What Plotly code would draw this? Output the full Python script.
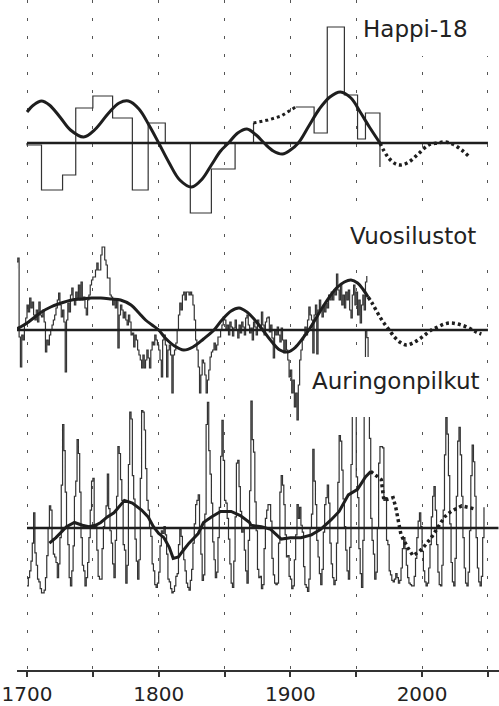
import plotly.graph_objects as go

# ---------------- Happi-18 (oxygen-18) ----------------
happi1_years = [1700, 1700, 1711, 1727, 1737, 1750, 1765, 1780, 1792, 1805, 1824, 1840, 1858, 1872]
happi1_vals = [0, -2, -47, -32, 35, 47, 25, -47, 20, 0, -70, -26, 0, 20]
happi_gap_years = [1872, 1883, 1893, 1904]
happi_gap_vals = [20, 23, 27, 36]
happi2_years = [1904, 1918, 1928, 1941, 1951, 1957, 1968]
happi2_vals = [36, 10, 116, 48, 4, 30, -24]

happi_curve_years = [1700, 1705, 1711, 1717, 1725, 1733, 1743, 1752, 1762, 1770, 1777, 1785, 1793,
                     1800, 1808, 1816, 1825, 1833, 1840, 1847, 1853, 1860, 1867, 1874, 1880, 1887,
                     1894, 1900, 1906, 1914, 1922, 1930, 1938, 1946, 1953, 1960, 1968]
happi_curve_vals = [31, 38, 42, 38, 26, 13, 6, 14, 30, 40, 42, 34, 17,
                    0, -20, -37, -44, -36, -22, -8, 0, 10, 14, 8, 0, -8,
                    -11, -7, 0, 17, 34, 46, 51, 45, 31, 16, 0]
happi_fore_years = [1968, 1974, 1980, 1984, 1990, 1997, 2005, 2012, 2017, 2023, 2030, 2036]
happi_fore_vals = [0, -14, -21, -22, -19, -11, -2, 0, 1, -1, -7, -14]

# ---------------- Vuosilustot (tree rings) ----------------
tree_start = 1690
tree_vals = [
    0, 62, 68, 72, -7, -37, -5, -10, 5, 12,
    25, 18, 32, 22, 28, 15, 10, 20, 8, 28,
    15, 13, 20, 8, -22, -10, -15, -5, 0, 5,
    10, 15, 22, 30, 37, 25, 13, 20, 8, -42,
    10, 27, 18, 35, 42, 30, 25, 38, 32, 45,
    30, 48, 30, 33, 22, 15, 30, 35, 45, 50,
    53, 53, 60, 67, 60, 60, 75, 83, 83, 70,
    65, 52, 52, 35, 33, 25, 30, 22, 30, -18,
    15, 25, 20, 12, 18, 10, 5, 15, 8, -5,
    -3, -17, -5, -10, -20, -25, -30, -38, -25, -38,
    -30, -20, -28, -38, -20, -12, -15, -5, -10, -15,
    -20, -30, -47, -10, -5, -15, -47, -20, -15, -25,
    -63, -25, -20, -13, 0, 15, 27, 20, 35, 38,
    30, 38, 38, 35, 38, 35, 25, 10, -10, -20,
    -37, -63, -45, -30, -33, -45, -63, -50, -40, -27,
    -22, -20, -13, -20, -15, -7, -7, 0, 5, 13,
    10, 0, 5, -5, 8, 3, -6, 2, 10, 0,
    -8, 5, -3, 8, 3, -5, 12, 15, 5, -3,
    2, -10, 8, 3, -5, 10, 5, 2, 18, 5,
    -5, 8, 12, 13, -2, 5, -8, -28, 0, -5,
    3, -5, -12, 2, -10, -23, -10, -20, -30, -47,
    -40, -63, -50, -77, -63, -90, -55, -30, -20, -10,
    -5, 3, -5, 10, 23, 15, 10, -23, 15, 25,
    -24, 20, 30, 20, 13, 25, 18, 27, 22, 35,
    30, 38, 30, 40, 35, 56, 40, 30, 45, 25,
    35, 22, 38, 30, 40, 20, 12, 35, 45, 25,
    38, 15, 30, 7, 25, 35, 20, 48, 54,
]
tree_years = list(range(tree_start, tree_start + len(tree_vals)))

tree_curve_years = [1690, 1695, 1700, 1705, 1711, 1718, 1726, 1734, 1741, 1749, 1756, 1764, 1771,
                    1779, 1785, 1790, 1795, 1800, 1805, 1812, 1819, 1826, 1834, 1842, 1848, 1855,
                    1861, 1867, 1873, 1879, 1886, 1892, 1898, 1904, 1909, 1914, 1920, 1927, 1935,
                    1941, 1946, 1951, 1955, 1959]
tree_curve_vals = [0, 3, 7, 12, 18, 23, 27, 30, 31, 32, 32, 31, 30,
                   25, 17, 10, 5, 0, -8, -16, -20, -17, -9, 0, 10, 19,
                   22, 18, 10, 0, -12, -20, -22, -17, -9, 0, 13, 28, 42,
                   48, 50, 47, 41, 33]
tree_fore_years = [1959, 1962, 1965, 1968, 1971, 1975, 1979, 1983, 1988, 1993, 1998, 2003, 2007,
                   2012, 2017, 2022, 2027, 2032, 2037, 2041, 2045]
tree_fore_vals = [33, 27, 20, 13, 7, 0, -7, -12, -15, -13, -9, -4, 0,
                  3, 6, 7, 6, 4, 1, -2, -4]

# ---------------- Auringonpilkut (sunspots) ----------------
sun_start = 1700
sun_mean = 47
sun_vals = [
    5, 11, 16, 23, 36, 58, 29, 20, 10, 8,
    3, 0, 0, 2, 11, 27, 47, 63, 60, 39,
    28, 26, 22, 11, 21, 40, 78, 122, 103, 73,
    47, 35, 11, 5, 16, 34, 70, 81, 111, 101,
    73, 40, 20, 16, 5, 11, 22, 40, 60, 81,
    83, 48, 48, 31, 12, 10, 10, 32, 48, 54,
    63, 86, 61, 45, 36, 21, 11, 38, 70, 106,
    101, 82, 67, 35, 31, 7, 20, 93, 131, 126,
    85, 68, 39, 23, 10, 24, 83, 132, 131, 118,
    90, 67, 60, 47, 41, 21, 16, 6, 4, 7,
    15, 34, 45, 43, 48, 42, 28, 10, 8, 3,
    0, 1, 5, 12, 14, 35, 46, 41, 30, 24,
    16, 7, 4, 2, 9, 17, 36, 50, 64, 67,
    71, 48, 28, 9, 13, 57, 122, 138, 103, 86,
    65, 37, 24, 11, 15, 40, 62, 99, 125, 96,
    67, 65, 54, 39, 21, 7, 4, 23, 55, 94,
    96, 77, 59, 44, 47, 31, 16, 7, 38, 74,
    139, 111, 102, 66, 45, 17, 11, 12, 3, 6,
    32, 54, 60, 64, 64, 52, 25, 13, 7, 6,
    7, 36, 73, 85, 78, 64, 42, 26, 27, 12,
    10, 3, 5, 24, 42, 64, 54, 62, 49, 44,
    19, 6, 4, 1, 10, 47, 57, 104, 81, 64,
    38, 26, 14, 6, 17, 44, 64, 69, 78, 65,
    36, 21, 11, 6, 9, 36, 80, 114, 110, 89,
    68, 48, 31, 16, 10, 33, 93, 152, 136, 135,
    84, 69, 32, 14, 4, 38, 142, 190, 185, 159,
    112, 54, 38, 28, 10, 15, 47, 94, 106, 106,
    105, 67, 69, 38, 35, 16, 13, 9, 8, 10,
    14, 11, 7, 9, 18, 32, 40, 32, 20, 11,
    7, 6, 5, 5, 12, 25, 40, 52, 58, 48,
    30, 16, 8, 5, 7, 18, 35, 55, 70, 77,
    60, 35, 15, 6, 5, 20, 60, 100, 127, 115,
    85, 50, 22, 8, 5, 25, 70, 110, 120, 100,
    70, 40, 18, 7, 5, 15, 45, 85, 107, 95,
    70, 40, 18, 8, 5, 12, 40, 62,
]
sun_years = list(range(sun_start, sun_start + len(sun_vals)))

sun_curve_years = [1717, 1722, 1730, 1736, 1742, 1747, 1752, 1756, 1761, 1766, 1774, 1780, 1787,
                   1792, 1796, 1800, 1804, 1808, 1811, 1815, 1818, 1823, 1830, 1834, 1840, 1847,
                   1855, 1862, 1869, 1870, 1878, 1885, 1893, 1900, 1908, 1916, 1923, 1931, 1937,
                   1944, 1951, 1957, 1961]
sun_curve_vals = [36, 40, 48, 51, 49, 48, 49, 51, 55, 58, 67, 65, 60,
                  55, 48, 43, 40, 33, 25, 26, 30, 36, 43, 51, 55, 59,
                  59, 56, 51, 49, 48, 46, 39, 40, 40, 42, 46, 53, 59,
                  71, 75, 84, 88]
sun_fore_years = [1961, 1965, 1969, 1971, 1978, 1980, 1982, 1984, 1989, 1993, 1998, 2001, 2007,
                  2012, 2017, 2022, 2030, 2035, 2039]
sun_fore_vals = [88, 85, 82, 67, 69, 62, 51, 42, 33, 27, 30, 33, 40,
                 48, 55, 59, 63, 62, 61]

tick_years = [1700, 1750, 1800, 1850, 1900, 1950, 2000, 2050]
tick_labels = ["1700", "", "1800", "", "1900", "", "2000", ""]

THIN = "#333333"
THICK = "#1e1e1e"
THIN_W = 1.2

fig = go.Figure()

# Happi-18
fig.add_trace(go.Scatter(x=happi1_years, y=happi1_vals, mode="lines", line=dict(color=THIN, width=THIN_W, shape="hv"), yaxis="y"))
fig.add_trace(go.Scatter(x=happi_gap_years, y=happi_gap_vals, mode="lines", line=dict(color=THICK, width=3, dash="3px,3px"), yaxis="y"))
fig.add_trace(go.Scatter(x=happi2_years, y=happi2_vals, mode="lines", line=dict(color=THIN, width=THIN_W, shape="hv"), yaxis="y"))
fig.add_trace(go.Scatter(x=happi_curve_years, y=happi_curve_vals, mode="lines", line=dict(color=THICK, width=3, shape="spline"), yaxis="y"))
fig.add_trace(go.Scatter(x=happi_fore_years, y=happi_fore_vals, mode="lines", line=dict(color=THICK, width=3.5, shape="spline", dash="3px,3px"), yaxis="y"))

# Tree rings
fig.add_trace(go.Scatter(x=tree_years, y=tree_vals, mode="lines", line=dict(color=THIN, width=THIN_W, shape="hv"), yaxis="y2"))
fig.add_trace(go.Scatter(x=tree_curve_years, y=tree_curve_vals, mode="lines", line=dict(color=THICK, width=3, shape="spline"), yaxis="y2"))
fig.add_trace(go.Scatter(x=tree_fore_years, y=tree_fore_vals, mode="lines", line=dict(color=THICK, width=3.5, shape="spline", dash="3px,3px"), yaxis="y2"))

# Sunspots
fig.add_trace(go.Scatter(x=sun_years, y=sun_vals, mode="lines", line=dict(color=THIN, width=THIN_W, shape="hv"), yaxis="y3"))
fig.add_trace(go.Scatter(x=sun_curve_years, y=sun_curve_vals, mode="lines", line=dict(color=THICK, width=3), yaxis="y3"))
fig.add_trace(go.Scatter(x=sun_fore_years, y=sun_fore_vals, mode="lines", line=dict(color=THICK, width=3.5, dash="3px,3px"), yaxis="y3"))

# baselines
for yref, x0, x1, yv in [("y", 1700, 2050, 0), ("y2", 1690, 2050, 0), ("y3", 1700, 2058, sun_mean)]:
    fig.add_shape(type="line", xref="x", yref=yref, x0=x0, x1=x1, y0=yv, y1=yv,
                  line=dict(color=THICK, width=2.5), layer="above")

# white label boxes (the original labels sit on white patches)
W, H = 482.0, 670.0
def px(xp):
    return (xp - 17) / W
def py(yp):
    return 1 - yp / H
for (x0, x1, y0, y1) in [(357, 499, 0, 56), (344, 489, 214, 256), (306, 482, 357, 417)]:
    fig.add_shape(type="rect", xref="paper", yref="paper", x0=px(x0), x1=px(x1), y0=py(y1), y1=py(y0),
                  fillcolor="white", line=dict(width=0), layer="above")

FONT = "DejaVu Sans"
for text, xl, yc in [("Happi-18", 362, 29), ("Vuosilustot", 349, 236), ("Auringonpilkut", 311, 381)]:
    fig.add_annotation(text=text, xref="paper", yref="paper", x=px(xl), y=py(yc), xanchor="left",
                       yanchor="middle", showarrow=False, font=dict(family=FONT, size=23, color="#222"),
                       borderpad=0)

fig.update_layout(
    width=499, height=706,
    margin=dict(l=17, r=0, t=0, b=36),
    paper_bgcolor="white", plot_bgcolor="white",
    showlegend=False,
    xaxis=dict(range=[1692.4, 2058.4], tickvals=tick_years, ticktext=tick_labels,
               ticks="outside", ticklen=5, tickwidth=1.5, tickcolor="#333",
               showline=True, linecolor="#333", linewidth=1.5,
               showgrid=True, gridcolor="#555", gridwidth=1.3, griddash="3px,15px",
               zeroline=False, tickfont=dict(family=FONT, size=20, color="#222"),
               automargin=False),
    yaxis=dict(domain=[0, 1], range=[-527, 143], visible=False, fixedrange=True),
    yaxis2=dict(overlaying="y", range=[-340, 330], visible=False),
    yaxis3=dict(overlaying="y", range=[sun_mean - (670 - 528) / 1.38, sun_mean + 528 / 1.38], visible=False),
)

fig.write_html("out.html", config={"displayModeBar": False},
               post_script="document.body.style.margin='0';")
